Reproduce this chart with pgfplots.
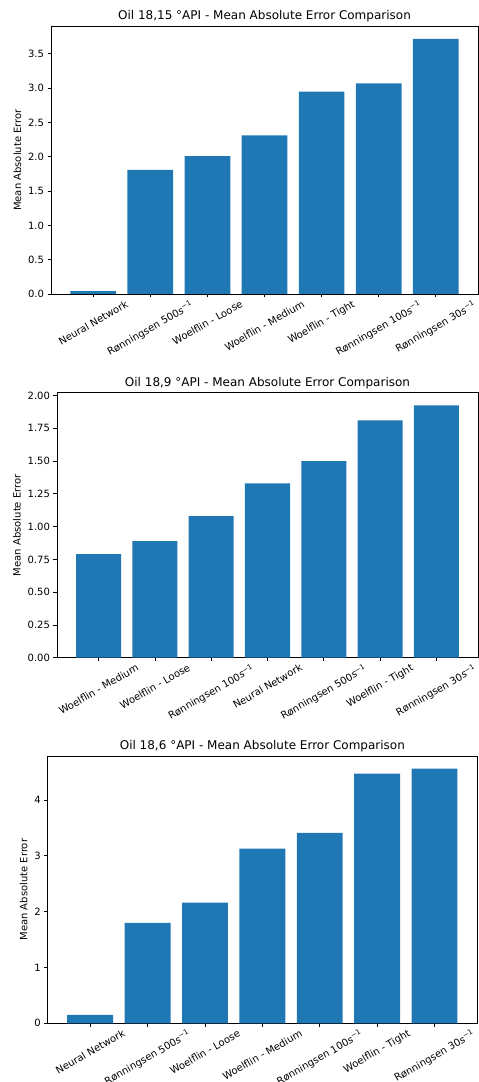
\documentclass[border=0pt]{standalone}
\usepackage{fontspec}
\setmainfont{DejaVu Sans}
\usepackage{pgfplots}
\pgfplotsset{compat=1.18}
\definecolor{mplblue}{HTML}{1F77B4}
\pgfplotsset{
  mplbar/.style={
    scale only axis,
    anchor=south west,
    xmin=-0.74, xmax=6.74, ymin=0,
    xtick={0,...,6},
    tick align=outside,
    xtick pos=bottom, ytick pos=left,
    major tick length=3.5pt,
    every tick/.style={black, line width=0.8pt},
    axis line style={black, line width=0.8pt},
    tick label style={font=\fontsize{10}{12}\selectfont},
    xticklabel style={anchor=north, inner sep=2pt},
    /pgf/number format/assume math mode=true,
    ylabel={Mean Absolute Error},
    ylabel style={font=\fontsize{10}{12}\selectfont},
    title style={font=\fontsize{12}{14}\selectfont, yshift=-6pt},
  },
}
\newcommand{\rl}[1]{\rotatebox{30}{#1}}
\newcommand{\sm}{\textit{s}\textsuperscript{−1}}
\begin{document}
\begin{tikzpicture}
\path[use as bounding box] (0,0) rectangle (479pt,1082pt);
% Plot 1
\begin{axis}[mplbar, at={(51pt,788pt)}, width=427pt, height=268pt,
  ymax=3.906, ytick={0,0.5,...,3.5},
  yticklabel style={/pgf/number format/.cd, fixed, fixed zerofill, precision=1},
  xticklabels={\rl{Neural Network},\rl{Rønningsen 500\sm},\rl{Woelflin - Loose},\rl{Woelflin - Medium},\rl{Woelflin - Tight},\rl{Rønningsen 100\sm},\rl{Rønningsen 30\sm}},
  title={Oil 18,15 °API - Mean Absolute Error Comparison}]
\addplot[ybar, bar width=0.8, fill=mplblue, draw=none] coordinates {
 (0,0.04) (1,1.81) (2,2.01) (3,2.31) (4,2.95) (5,3.07) (6,3.72)};
\end{axis}
% Plot 2
\begin{axis}[mplbar, at={(57pt,424.3pt)}, width=421pt, height=265pt,
  ymax=2.0215, ytick={0,0.25,...,2.0},
  yticklabel style={/pgf/number format/.cd, fixed, fixed zerofill, precision=2},
  xticklabels={\rl{Woelflin - Medium},\rl{Woelflin - Loose},\rl{Rønningsen 100\sm},\rl{Neural Network},\rl{Rønningsen 500\sm},\rl{Woelflin - Tight},\rl{Rønningsen 30\sm}},
  title={Oil 18,9 °API - Mean Absolute Error Comparison}]
\addplot[ybar, bar width=0.8, fill=mplblue, draw=none] coordinates {
 (0,0.79) (1,0.89) (2,1.08) (3,1.33) (4,1.50) (5,1.81) (6,1.925)};
\end{axis}
% Plot 3
\begin{axis}[mplbar, at={(47.7pt,58.7pt)}, width=429.3pt, height=267.3pt,
  ymax=4.788, ytick={0,1,2,3,4},
  xticklabels={\rl{Neural Network},\rl{Rønningsen 500\sm},\rl{Woelflin - Loose},\rl{Woelflin - Medium},\rl{Rønningsen 100\sm},\rl{Woelflin - Tight},\rl{Rønningsen 30\sm}},
  title={Oil 18,6 °API - Mean Absolute Error Comparison}]
\addplot[ybar, bar width=0.8, fill=mplblue, draw=none] coordinates {
 (0,0.15) (1,1.80) (2,2.16) (3,3.13) (4,3.41) (5,4.47) (6,4.56)};
\end{axis}
\end{tikzpicture}
\end{document}
